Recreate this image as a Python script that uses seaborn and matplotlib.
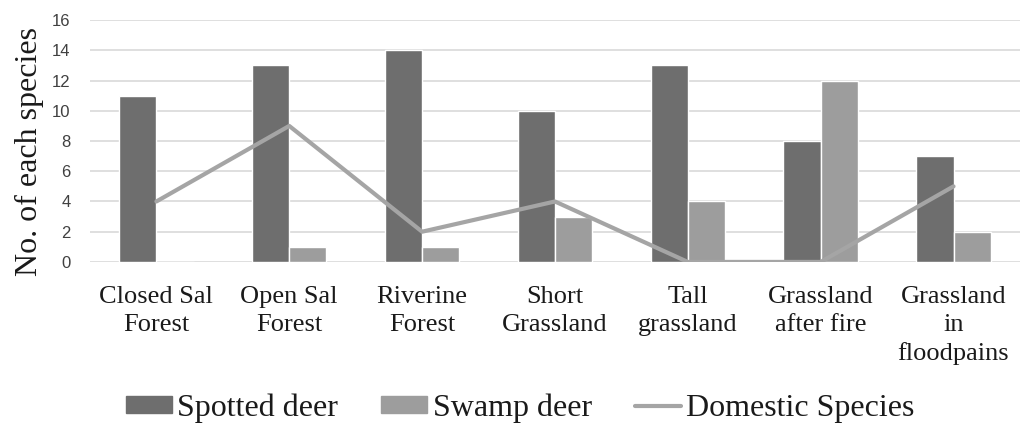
import numpy as np
import pandas as pd
import matplotlib
matplotlib.use("Agg")
import matplotlib.pyplot as plt
import seaborn as sns
from matplotlib.patches import Patch
from matplotlib.lines import Line2D

categories = ["Closed Sal\nForest", "Open Sal\nForest", "Riverine\nForest", "Short\nGrassland",
              "Tall\ngrassland", "Grassland\nafter fire", "Grassland\nin\nfloodpains"]
spotted = [11, 13, 14, 10, 13, 8, 7]
swamp = [0, 1, 1, 3, 4, 12, 2]
domestic = [4, 9, 2, 4, 0, 0, 5]
series_names = ["Spotted deer", "Swamp deer", "Domestic Species"]
yticks = [0, 2, 4, 6, 8, 10, 12, 14, 16]

c_spot = "#6e6e6e"
c_swamp = "#9d9d9d"
c_line = "#a5a5a5"

sns.set_theme(style="white")
plt.rcParams["font.family"] = ["Liberation Serif", "DejaVu Serif"]

df = pd.DataFrame({
    "habitat": categories * 2,
    "count": spotted + swamp,
    "species": [series_names[0]] * len(categories) + [series_names[1]] * len(categories),
})
dom = pd.DataFrame({"habitat": categories, "count": domestic})

fig = plt.figure(figsize=(10.22, 4.28), dpi=100)
ax = fig.add_axes([0.088, 0.388, 0.91, 0.565])

sns.barplot(data=df, x="habitat", y="count", hue="species", order=categories,
            palette=[c_spot, c_swamp], width=0.56, gap=0, saturation=1,
            ax=ax, legend=False, errorbar=None)
sns.pointplot(data=dom, x="habitat", y="count", order=categories, color=c_line,
              markers="", linewidth=3, ax=ax, errorbar=None)

ax.set_ylim(0, 16)
ax.set_yticks(yticks)
ax.set_yticklabels([str(v) for v in yticks], family=["Liberation Sans", "DejaVu Sans"],
                   fontsize=12, color="#404040")
ax.yaxis.grid(True, color="#d9d9d9", linewidth=1.2)
ax.set_axisbelow(True)
for s in ax.spines.values():
    s.set_visible(False)
ax.tick_params(axis="both", length=0)
ax.tick_params(axis="y", pad=14)
ax.tick_params(axis="x", pad=17, labelsize=19, labelcolor="#1a1a1a")
for lbl in ax.get_xticklabels():
    lbl.set_linespacing(1.37)
ax.set_xlabel("")
ax.set_ylabel("No. of each species", fontsize=23, color="#1a1a1a")
ax.yaxis.set_label_coords(-0.049, 0.455)
ax.set_xlim(-0.5, len(categories) - 0.5)

handles = [Patch(facecolor=c_spot, edgecolor=c_spot),
           Patch(facecolor=c_swamp, edgecolor=c_swamp),
           Line2D([0], [0], color=c_line, linewidth=3)]
fig.legend(handles, series_names, loc="center", bbox_to_anchor=(0.509, 0.047), ncol=3,
           frameon=False, fontsize=23, handlelength=1.45, handleheight=0.45,
           handletextpad=0.16, columnspacing=1.35, labelcolor="#1a1a1a",
           borderpad=0, borderaxespad=0)

fig.savefig("out.png", dpi=100)
